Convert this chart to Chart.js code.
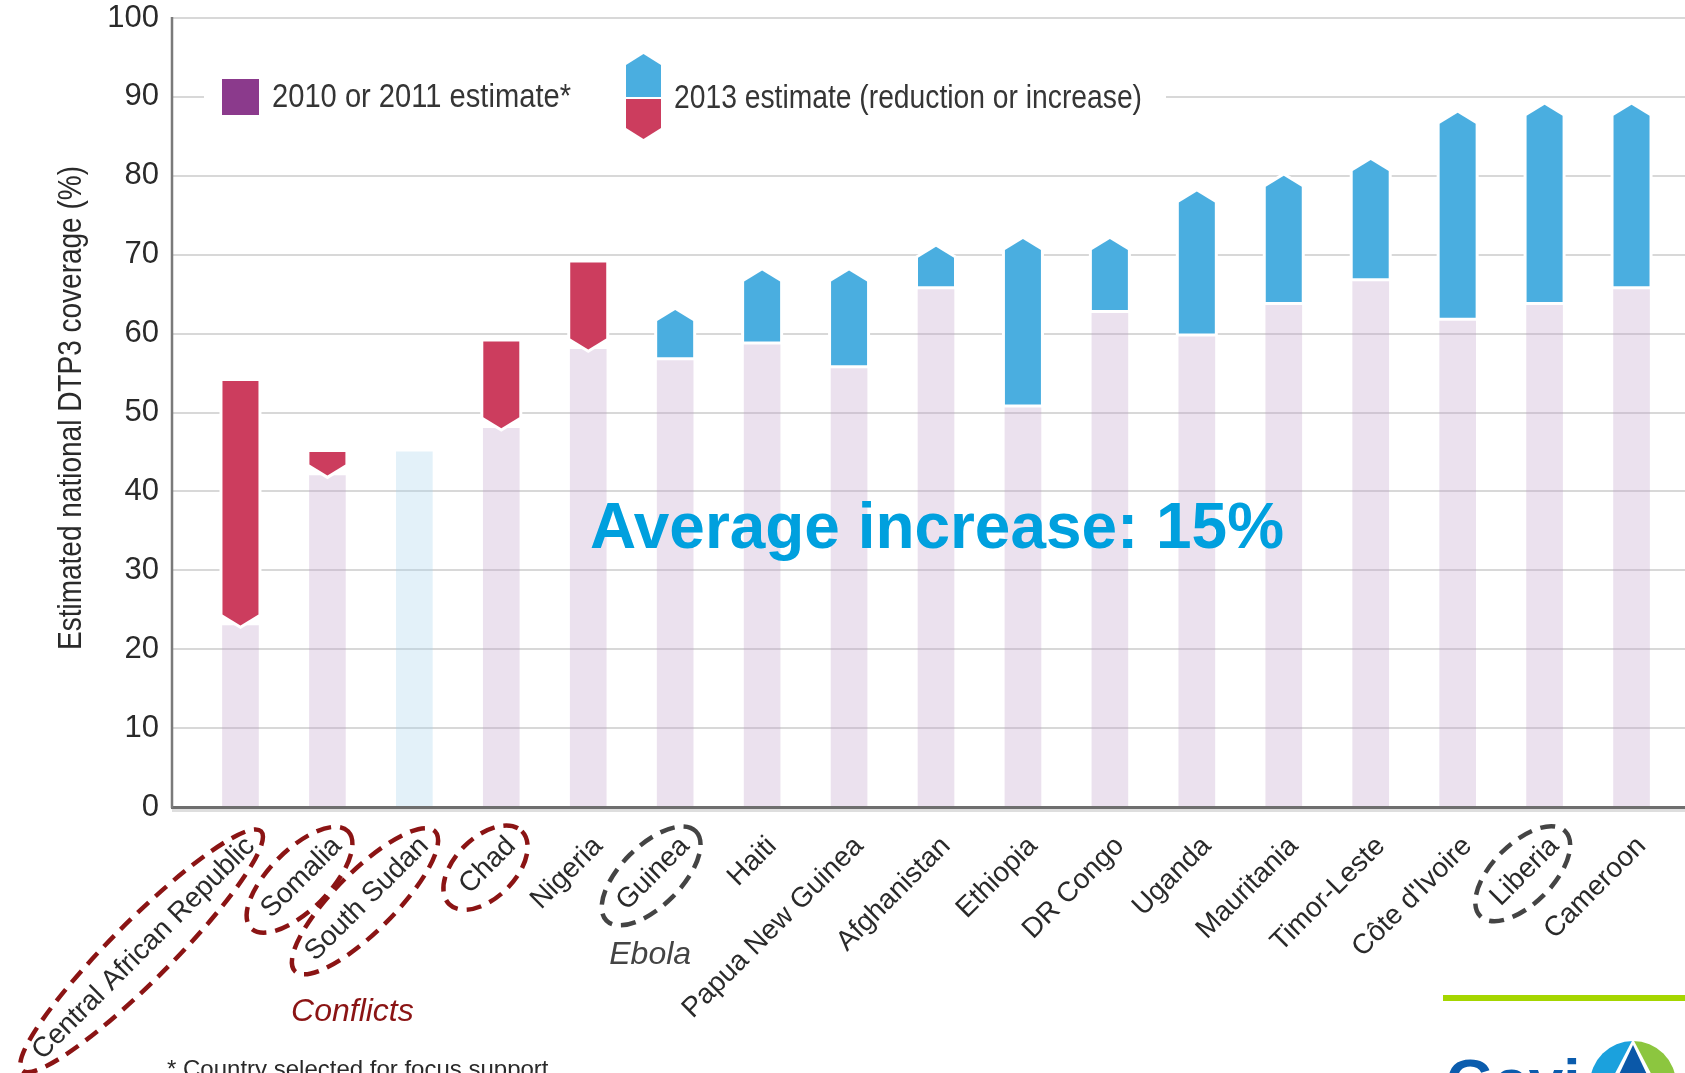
<!DOCTYPE html>
<html>
<head>
<meta charset="utf-8">
<title>DTP3 coverage: 2010/2011 vs 2013 estimates</title>
<script src="https://cdn.jsdelivr.net/npm/chart.js"></script>
<style>
  html, body { margin: 0; padding: 0; background: #ffffff; }
  #wrap { position: relative; width: 1685px; height: 1073px; overflow: hidden; }
</style>
</head>
<body>
<div id="wrap"><canvas id="c" width="1685" height="1073"></canvas></div>
<script>
// ---- data -------------------------------------------------------------
const countries = [
  'Central African Republic', 'Somalia', 'South Sudan', 'Chad', 'Nigeria',
  'Guinea', 'Haiti', 'Papua New Guinea', 'Afghanistan', 'Ethiopia',
  'DR Congo', 'Uganda', 'Mauritania', 'Timor-Leste', "Côte d'Ivoire",
  'Liberia', 'Cameroon'
];
// earlier (2010 or 2011) national DTP3 coverage, %; null = no earlier estimate
const estimate2011 = [54, 45, null, 59, 69, 57, 59, 56, 66, 51, 63, 60, 64, 67, 62, 64, 66];
// 2013 national DTP3 coverage, %
const estimate2013 = [23, 42, 45, 48, 58, 63, 68, 68, 71, 72, 72, 78, 80, 82, 88, 89, 89];

const yTicks = [0, 10, 20, 30, 40, 50, 60, 70, 80, 90, 100];
const seriesLabels = ['2010 or 2011 estimate*', '2013 estimate (reduction or increase)'];
const axisTitle = 'Estimated national DTP3 coverage (%)';
const conflictCountries = ['Central African Republic', 'Somalia', 'South Sudan', 'Chad'];
const ebolaCountries = ['Guinea', 'Liberia'];
const groupLabels = ['Conflicts', 'Ebola'];
const averageNote = 'Average increase: 15%';
const footnote = '* Country selected for focus support';
const brandName = 'Gavi';

// ---- styling ------------------------------------------------------------
const FONT = "'Liberation Sans', Arial, sans-serif";
const PALE = 'rgba(188,155,198,0.30)';
const PALE_BLUE = 'rgba(168,212,235,0.32)';
const RED = '#cc3d5e';
const BLUE = '#4aaee0';
const PURPLE = '#8b3a8c';
const DARK_RED = '#8b1414';
const DARK_GRAY = '#444444';
const TEXT = '#2a2a2a';

Chart.defaults.font.family = FONT;

// bar under each change arrow: up to the lower of the two estimates
const baseValues = estimate2013.map((v, i) => estimate2011[i] == null ? v : Math.min(v, estimate2011[i]));
// change from the earlier estimate to the 2013 one
const changeRanges = estimate2011.map((v, i) => v == null ? null : [v, estimate2013[i]]);

function arrowPath(ctx, x, top, bottom, w, up, h) {
  const l = x - w / 2, r = x + w / 2;
  ctx.beginPath();
  if (up) {
    ctx.moveTo(l, bottom); ctx.lineTo(l, top + h); ctx.lineTo(x, top);
    ctx.lineTo(r, top + h); ctx.lineTo(r, bottom);
  } else {
    ctx.moveTo(l, top); ctx.lineTo(r, top); ctx.lineTo(r, bottom - h);
    ctx.lineTo(x, bottom); ctx.lineTo(l, bottom - h);
  }
  ctx.closePath();
}

function fitText(ctx, text, x, yBase, width, font, color) {
  ctx.save();
  ctx.font = font;
  ctx.fillStyle = color;
  ctx.textAlign = 'left';
  ctx.textBaseline = 'alphabetic';
  const w = ctx.measureText(text).width;
  ctx.translate(x, yBase);
  ctx.scale(width / w, 1);
  ctx.fillText(text, 0, 0);
  ctx.restore();
}

const decor = {
  id: 'decor',
  beforeDatasetsDraw(chart) {
    const { ctx } = chart;
    const y = chart.scales.y;
    ctx.save();
    ctx.strokeStyle = '#d8d8d8';
    ctx.lineWidth = 2;
    yTicks.forEach(v => {
      if (v === 0) return;
      const py = Math.round(y.getPixelForValue(v));
      ctx.beginPath(); ctx.moveTo(172, py); ctx.lineTo(1685, py); ctx.stroke();
    });
    // legend panel
    ctx.fillStyle = '#ffffff';
    ctx.fillRect(204, 44, 962, 106);
    ctx.restore();
  },
  beforeDatasetDraw(chart, args) {
    if (args.index === 1) return false;
  },
  afterDatasetsDraw(chart) {
    const { ctx } = chart;
    const y = chart.scales.y;
    const meta = chart.getDatasetMeta(1);
    ctx.save();
    meta.data.forEach((bar, i) => {
      if (estimate2011[i] == null) return;
      const up = estimate2013[i] > estimate2011[i];
      const p = bar.getProps(['x', 'y', 'base', 'width'], true);
      const top = Math.min(p.y, p.base), bottom = Math.max(p.y, p.base);
      arrowPath(ctx, p.x, top, bottom, p.width, up, 11);
      ctx.lineJoin = 'miter';
      ctx.strokeStyle = '#ffffff';
      ctx.lineWidth = 6;
      ctx.stroke();
      ctx.fillStyle = up ? BLUE : RED;
      ctx.fill();
    });

    // axes
    const y0 = y.getPixelForValue(0);
    const yTop = y.getPixelForValue(100);
    ctx.strokeStyle = 'rgba(0,0,0,0.13)';
    ctx.lineWidth = 3;
    ctx.beginPath(); ctx.moveTo(172, y0 + 3.5); ctx.lineTo(1685, y0 + 3.5); ctx.stroke();
    ctx.strokeStyle = '#6e6e6e';
    ctx.lineWidth = 3;
    ctx.beginPath(); ctx.moveTo(171, y0 + 0.5); ctx.lineTo(1685, y0 + 0.5); ctx.stroke();
    ctx.strokeStyle = '#7a7a7a';
    ctx.lineWidth = 2.5;
    ctx.beginPath(); ctx.moveTo(172, yTop - 1); ctx.lineTo(172, y0 + 1); ctx.stroke();

    // average note
    fitText(ctx, averageNote, 590, 548, 694, 'bold 65px ' + FONT, '#00a0de');
    ctx.restore();
  },
  afterDraw(chart) {
    const { ctx } = chart;
    const xs = chart.scales.x;
    ctx.save();

    // legend
    ctx.fillStyle = PURPLE;
    ctx.fillRect(222, 79, 37, 36);
    fitText(ctx, seriesLabels[0], 272, 107, 299, '33px ' + FONT, '#353535');
    arrowPath(ctx, 643.5, 54, 97, 35, true, 11);
    ctx.fillStyle = BLUE; ctx.fill();
    arrowPath(ctx, 643.5, 99, 139, 35, false, 11);
    ctx.fillStyle = RED; ctx.fill();
    fitText(ctx, seriesLabels[1], 674, 108, 468, '33px ' + FONT, '#353535');

    // y axis title
    ctx.save();
    ctx.translate(81, 408);
    ctx.rotate(-Math.PI / 2);
    fitText(ctx, axisTitle, -242, 0, 484, '33px ' + FONT, '#2a2a2a');
    ctx.restore();

    // dashed rings round highlighted country names
    const items = typeof xs.getLabelItems === 'function' ? xs.getLabelItems() : (xs._labelItems || []);
    items.forEach((it, i) => {
      const name = countries[i];
      const color = conflictCountries.includes(name) ? DARK_RED : (ebolaCountries.includes(name) ? DARK_GRAY : null);
      if (!color) return;
      ctx.save();
      ctx.font = it.font.string;
      const w = ctx.measureText(String(it.label)).width;
      const [tx, ty] = it.options.translation;
      ctx.translate(tx, ty);
      ctx.rotate(it.options.rotation);
      let cy = it.textOffset || 0;
      const bl = it.options.textBaseline;
      if (bl === 'top') cy += it.font.size / 2;
      else if (bl === 'bottom') cy -= it.font.size / 2;
      const al = it.options.textAlign;
      const cx = al === 'right' ? -w / 2 - 3 : (al === 'left' ? w / 2 : 0);
      ctx.beginPath();
      ctx.ellipse(cx, cy, w / 2 + 18, 30, 0, 0, Math.PI * 2);
      ctx.setLineDash([15, 9]);
      ctx.lineWidth = 4.5;
      ctx.strokeStyle = color;
      ctx.stroke();
      ctx.restore();
    });

    // group captions
    ctx.font = 'italic 32px ' + FONT;
    ctx.textAlign = 'center';
    ctx.textBaseline = 'alphabetic';
    ctx.fillStyle = DARK_RED;
    ctx.fillText(groupLabels[0], xs.getPixelForValue(1) + 25, 1021);
    ctx.fillStyle = DARK_GRAY;
    ctx.fillText(groupLabels[1], xs.getPixelForValue(5) - 25, 964);

    // footnote
    ctx.textAlign = 'left';
    ctx.font = '24px ' + FONT;
    ctx.fillStyle = TEXT;
    ctx.fillText(footnote, 167, 1077);

    // brand strip and mark
    ctx.fillStyle = '#a5d600';
    ctx.fillRect(1443, 995, 242, 6);
    ctx.font = 'bold 62px ' + FONT;
    ctx.fillStyle = '#0b5cad';
    ctx.fillText(brandName, 1446, 1102);
    const cx = 1633, cy = 1084, r = 43;
    ctx.beginPath(); ctx.moveTo(cx, cy); ctx.arc(cx, cy, r, Math.PI / 2, Math.PI * 1.5); ctx.closePath();
    ctx.fillStyle = '#1ba1dd'; ctx.fill();
    ctx.beginPath(); ctx.moveTo(cx, cy); ctx.arc(cx, cy, r, -Math.PI / 2, Math.PI / 2); ctx.closePath();
    ctx.fillStyle = '#8cc63f'; ctx.fill();
    ctx.beginPath(); ctx.moveTo(cx, cy - r - 2); ctx.lineTo(cx + 34, cy + 20); ctx.lineTo(cx - 34, cy + 20); ctx.closePath();
    ctx.fillStyle = '#ffffff'; ctx.fill();
    ctx.beginPath(); ctx.moveTo(cx, cy - r + 4); ctx.lineTo(cx + 28, cy + 20); ctx.lineTo(cx - 28, cy + 20); ctx.closePath();
    ctx.fillStyle = '#0b58a8'; ctx.fill();

    ctx.restore();
  }
};

new Chart(document.getElementById('c'), {
  type: 'bar',
  data: {
    labels: countries,
    datasets: [
      {
        label: seriesLabels[0],
        data: baseValues,
        backgroundColor: c => estimate2011[c.dataIndex] == null ? PALE_BLUE : PALE,
        barThickness: 36,
        grouped: false,
        order: 2
      },
      {
        label: seriesLabels[1],
        data: changeRanges,
        backgroundColor: c => estimate2013[c.dataIndex] > estimate2011[c.dataIndex] ? BLUE : RED,
        barThickness: 36,
        grouped: false,
        order: 1
      }
    ]
  },
  options: {
    responsive: false,
    animation: false,
    devicePixelRatio: 1,
    layout: { padding: { top: 18, right: 10, left: 0, bottom: 0 } },
    plugins: { legend: { display: false }, tooltip: { enabled: false } },
    scales: {
      x: {
        offset: true,
        grid: { display: false, drawTicks: false },
        border: { display: false },
        ticks: {
          autoSkip: false, maxRotation: 45, minRotation: 45, padding: 23, labelOffset: 10,
          color: TEXT, font: { size: 28 }
        },
        afterFit: s => { s.height = 266; s.paddingLeft = 0; s.paddingRight = 0; }
      },
      y: {
        min: 0, max: 100,
        grid: { display: false, drawTicks: false },
        border: { display: false },
        ticks: { padding: 38, color: TEXT, font: { size: 31 } },
        afterBuildTicks: s => { s.ticks = yTicks.map(v => ({ value: v })); },
        afterFit: s => { s.width = 197; s.paddingTop = 0; s.paddingBottom = 0; }
      }
    }
  },
  plugins: [decor]
});
</script>
</body>
</html>
